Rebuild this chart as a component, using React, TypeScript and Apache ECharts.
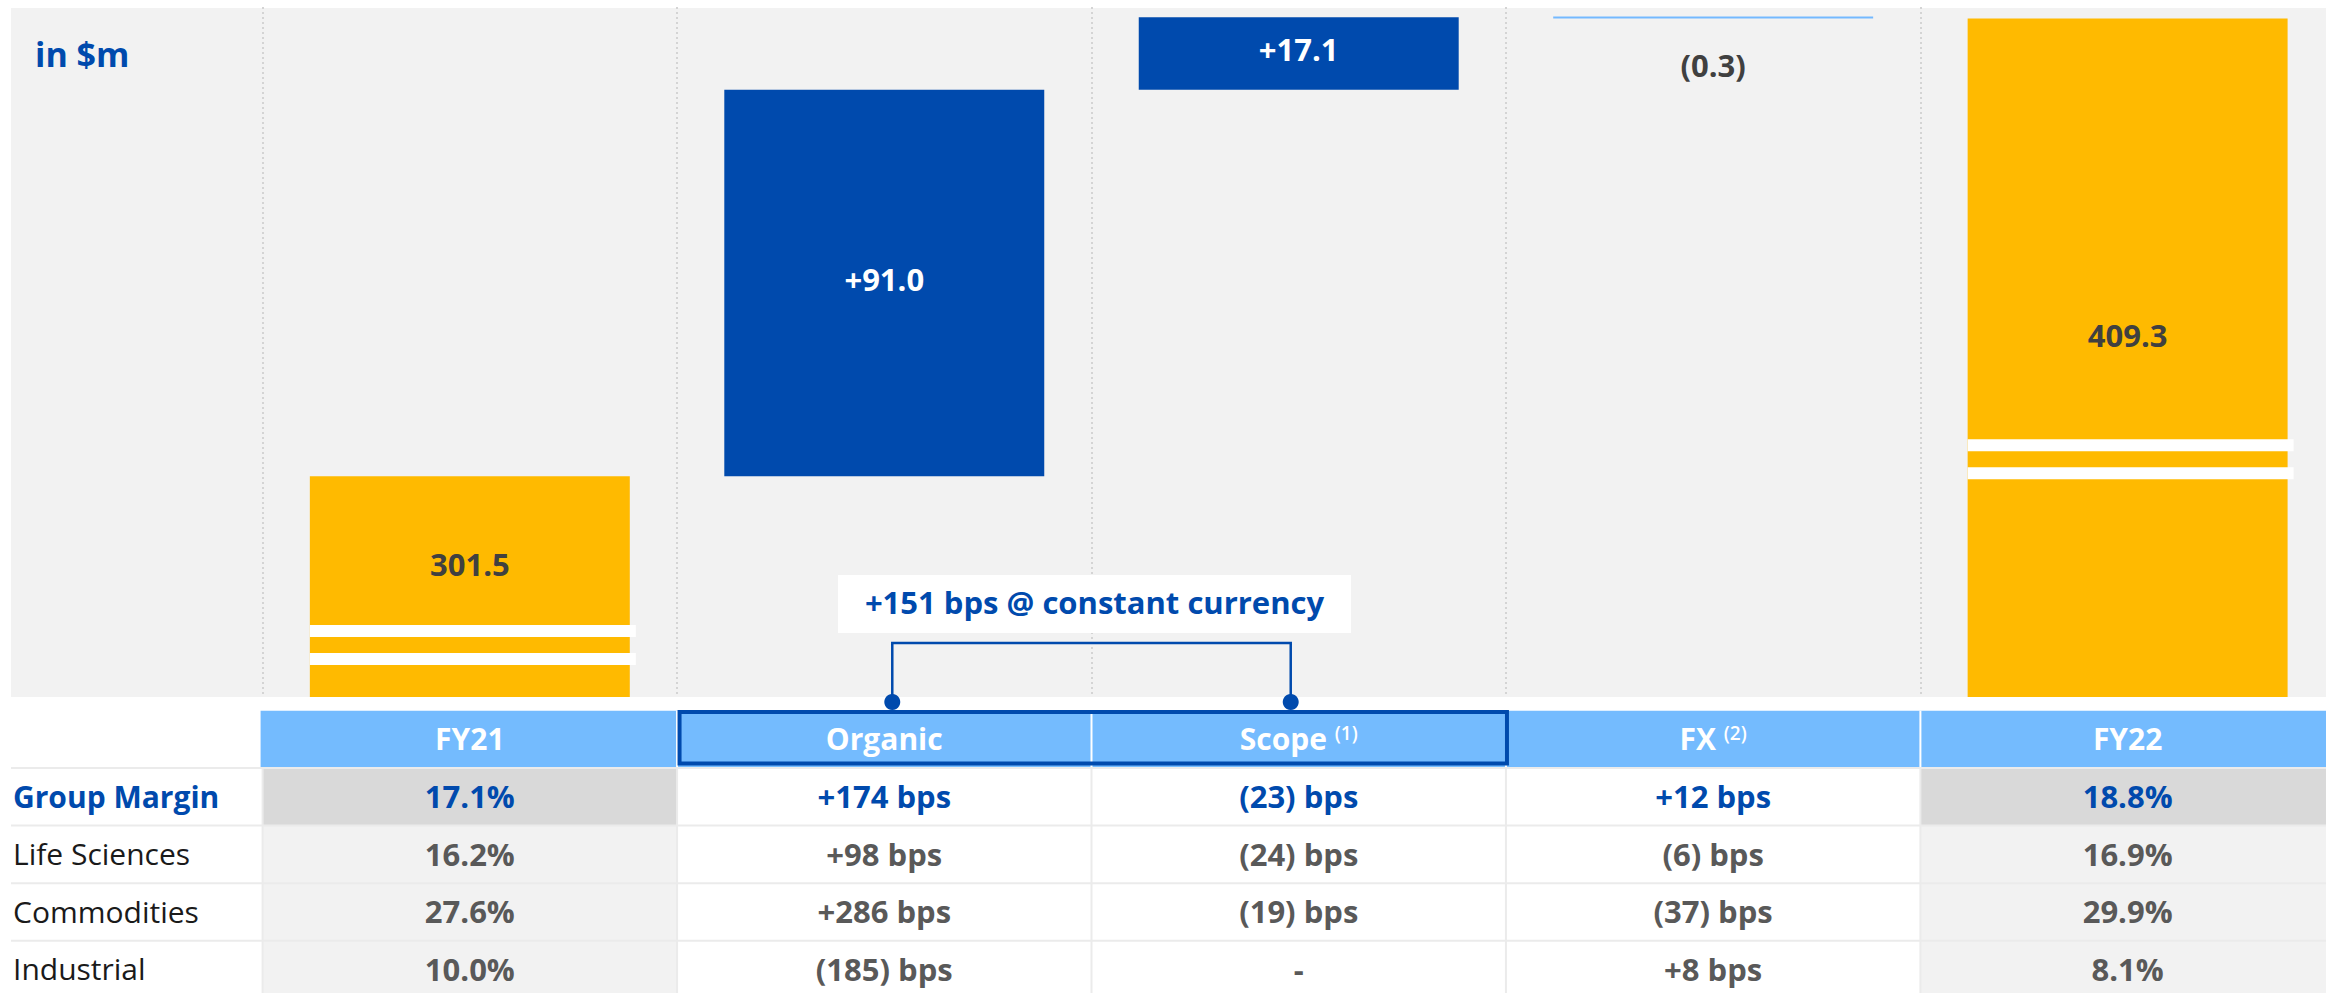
import React, { useEffect, useRef } from 'react';
import * as echarts from 'echarts';

// ---------- data ----------
const CATEGORIES = ['FY21', 'Organic', 'Scope', 'FX', 'FY22'];
const FOOTNOTES = ['', '', '(1)', '(2)', ''];
const START_TOTAL = 301.5;
const BRIDGE_DELTAS = [91.0, 17.1, -0.3];
const END_TOTAL = 409.3;

const ROW_LABELS = ['Group Margin', 'Life Sciences', 'Commodities', 'Industrial'];
const FY21_MARGIN = [17.1, 16.2, 27.6, 10.0];
const ORGANIC_BPS = [174, 98, 286, -185];
const SCOPE_BPS: (number | null)[] = [-23, -24, -19, null];
const FX_BPS = [12, -6, -37, 8];
const FY22_MARGIN = [18.8, 16.9, 29.9, 8.1];
const CONSTANT_CCY_BPS = 151;

// ---------- styles ----------
const VIEW_W = 2326;
const W = 2344; // canvas is a bit wider than the view: the last column runs past the right edge
const H = 993;
const FONT = '"Open Sans", "Noto Sans", sans-serif';
const BLUE = '#004AAD';
const YELLOW = '#FFBA00';
const LIGHT_BLUE = '#74BBFE';
const FX_LINE = '#74B9FF';
const DARK_TEXT = '#404040';
const GRAY_TEXT = '#595959';
const PANEL = '#F2F2F2';
const SEP = '#EBEBEB';
const BAR_RATIO = 0.772;
const BREAK_FRAC = [0.674, 0, 0, 0, 0.62];
const GRID_LEFT = 262.6;
const COL_W = 414.45;
const GRID = { left: GRID_LEFT, top: 7, width: COL_W * 5, height: 690 };
const HEADER_TOP = 710.7;
const HEADER_BOTTOM = 767;
const ROW_H = 57.6;

const fmtPct = (v: number) => v.toFixed(1) + '%';
const fmtBps = (v: number | null) =>
  v === null ? '-' : v >= 0 ? `+${v} bps` : `(${Math.abs(v)}) bps`;
const fmtDelta = (d: number) => (d >= 0 ? '+' + d.toFixed(1) : '(' + Math.abs(d).toFixed(1) + ')');

function buildWaterfall() {
  const base: number[] = [0];
  const vals: number[] = [START_TOTAL];
  const labels: string[] = [START_TOTAL.toFixed(1)];
  const kinds: string[] = ['total'];
  let run = START_TOTAL;
  for (const d of BRIDGE_DELTAS) {
    const next = run + d;
    base.push(Math.min(run, next));
    vals.push(Math.abs(d));
    labels.push(fmtDelta(d));
    kinds.push(d >= 0 ? 'up' : 'down');
    run = next;
  }
  base.push(0);
  vals.push(END_TOTAL);
  labels.push(END_TOTAL.toFixed(1));
  kinds.push('total');
  return { base, vals, labels, kinds };
}

export default function App() {
  const ref = useRef<HTMLDivElement>(null);
  useEffect(() => {
    if (!ref.current) return;
    const chart = echarts.init(ref.current, undefined, { renderer: 'svg', width: W, height: H });
    const wf = buildWaterfall();

    const valueData = wf.vals.map((v, i) => {
      const k = wf.kinds[i];
      const color = k === 'total' ? YELLOW : k === 'up' ? BLUE : FX_LINE;
      const lc = k === 'up' ? '#FFFFFF' : DARK_TEXT;
      const off = k === 'total' ? [0, -23] : k === 'up' ? [0, -4] : [0, 48];
      return { value: v, itemStyle: { color }, label: { color: lc, offset: off } };
    });

    const option: any = {
      animation: false,
      backgroundColor: '#FFFFFF',
      textStyle: { fontFamily: FONT },
      grid: { ...GRID, containLabel: false },
      xAxis: {
        type: 'category',
        data: CATEGORIES,
        axisLine: { show: false },
        axisTick: { show: false },
        axisLabel: { show: false },
        splitLine: { show: true, interval: 0, lineStyle: { color: '#D4D4D4', width: 2, type: [2, 3] } },
      },
      yAxis: { type: 'value', min: 249.5, max: 412, show: false },
      series: [
        {
          name: 'base',
          type: 'bar',
          stack: 'wf',
          barWidth: (BAR_RATIO * 100).toFixed(1) + '%',
          itemStyle: { color: 'transparent' },
          data: wf.base,
          silent: true,
        },
        {
          name: 'value',
          type: 'bar',
          stack: 'wf',
          barWidth: (BAR_RATIO * 100).toFixed(1) + '%',
          barMinHeight: 2,
          data: valueData,
          label: {
            show: true,
            position: 'inside',
            fontFamily: FONT,
            fontWeight: 'bold',
            fontSize: 31,
            formatter: (p: any) => wf.labels[p.dataIndex],
          },
        },
        {
          name: 'break',
          type: 'custom',
          z: 5,
          silent: true,
          data: [
            [0, START_TOTAL],
            [4, END_TOTAL],
          ],
          encode: { x: 0, y: 1 },
          renderItem: (params: any, api: any) => {
            const i = api.value(0);
            const top = api.coord([i, api.value(1)]);
            const cs = params.coordSys;
            const bottom = cs.y + cs.height;
            const y0 = top[1] + BREAK_FRAC[i] * (bottom - top[1]);
            const bw = api.size([1, 0])[0] * BAR_RATIO;
            const x0 = top[0] - bw / 2;
            return {
              type: 'group',
              children: [
                { type: 'rect', shape: { x: x0, y: y0, width: bw + 6, height: 12 }, style: { fill: '#FFFFFF' } },
                { type: 'rect', shape: { x: x0, y: y0 + 28, width: bw + 6, height: 12 }, style: { fill: '#FFFFFF' } },
              ],
            };
          },
        },
      ],
    };
    chart.setOption(option);

    // table & annotations positioned from the category axis
    const cx = (i: number) => chart.convertToPixel({ xAxisIndex: 0 }, i) as number;
    const colW = cx(1) - cx(0);
    const colLeft = (i: number) => cx(i) - colW / 2;

    const g: any[] = [];
    g.push({ type: 'rect', z: -10, shape: { x: 11, y: 8, width: W - 11, height: 689 }, style: { fill: PANEL } });
    g.push({
      type: 'text', z: 10, x: 35, y: 54,
      style: { text: 'in $m', fill: BLUE, fontFamily: FONT, fontWeight: 'bold', fontSize: 34, verticalAlign: 'middle' },
    });

    // header
    g.push({
      type: 'rect', z: 10,
      shape: { x: colLeft(0) - 2, y: HEADER_TOP, width: W - colLeft(0) + 2, height: HEADER_BOTTOM - HEADER_TOP },
      style: { fill: LIGHT_BLUE },
    });
    for (let i = 1; i < CATEGORIES.length; i++) {
      g.push({
        type: 'rect', z: 11,
        shape: { x: colLeft(i) - 1, y: HEADER_TOP, width: 2, height: HEADER_BOTTOM - HEADER_TOP },
        style: { fill: '#FFFFFF' },
      });
    }
    CATEGORIES.forEach((c, i) => {
      const fn = FOOTNOTES[i];
      g.push({
        type: 'text', z: 12, x: cx(i), y: 738.5,
        style: {
          text: fn ? `{h|${c} }{s|${fn}}` : `{h|${c}}`,
          align: 'center',
          verticalAlign: 'middle',
          rich: {
            h: { fontFamily: FONT, fontWeight: 'bold', fontSize: 30, fill: '#FFFFFF' },
            s: { fontFamily: FONT, fontWeight: 600, fontSize: 19, fill: '#FFFFFF', verticalAlign: 'top' },
          },
        },
      });
    });
    // highlighted box around Organic + Scope
    {
      const oL = colLeft(1) + 0.5;
      const oR = colLeft(3) + 3;
      g.push({
        type: 'rect', z: 13,
        shape: { x: oL + 2, y: 712, width: oR - oL - 4, height: 51.5 },
        style: { fill: 'none', stroke: BLUE, lineWidth: 4 },
      });
    }

    // body
    g.push({ type: 'rect', z: 9, shape: { x: 11, y: HEADER_BOTTOM, width: W - 11, height: H - HEADER_BOTTOM }, style: { fill: SEP } });
    const cols = [
      FY21_MARGIN.map(fmtPct),
      ORGANIC_BPS.map(fmtBps),
      SCOPE_BPS.map(fmtBps),
      FX_BPS.map(fmtBps),
      FY22_MARGIN.map(fmtPct),
    ];
    ROW_LABELS.forEach((lab, r) => {
      const top = HEADER_BOTTOM + r * ROW_H;
      const cy = top + 29;
      const isGroup = r === 0;
      g.push({
        type: 'rect', z: 10,
        shape: { x: 11, y: top + 2, width: colLeft(0) - 1 - 11, height: ROW_H - 2 },
        style: { fill: '#FFFFFF' },
      });
      g.push({
        type: 'text', z: 12, x: 13, y: cy,
        style: {
          text: lab, fill: isGroup ? BLUE : '#1A1A1A', fontFamily: FONT,
          fontWeight: isGroup ? 'bold' : 'normal', fontSize: 30, verticalAlign: 'middle', align: 'left',
        },
      });
      cols.forEach((vals, c) => {
        const isTotal = c === 0 || c === 4;
        const fill = isTotal ? (isGroup ? '#D9D9D9' : PANEL) : '#FFFFFF';
        const x0 = colLeft(c) + 1;
        const x1 = Math.min(colLeft(c + 1) - 1, W);
        g.push({ type: 'rect', z: 10, shape: { x: x0, y: top + 2, width: x1 - x0, height: ROW_H - 2 }, style: { fill } });
        g.push({
          type: 'text', z: 12, x: cx(c), y: cy,
          style: {
            text: vals[r], fill: isGroup ? BLUE : GRAY_TEXT, fontFamily: FONT,
            fontWeight: 'bold', fontSize: 31, align: 'center', verticalAlign: 'middle',
          },
        });
      });
    });

    // constant-currency bracket
    {
      const a = cx(1) + 8;
      const b = cx(2) - 8;
      const mid = colLeft(2) + 3;
      g.push({
        type: 'polyline', z: 14,
        shape: { points: [[a, 702], [a, 643], [b, 643], [b, 702]] },
        style: { stroke: BLUE, lineWidth: 2.5, fill: 'none' },
      });
      g.push({ type: 'circle', z: 15, shape: { cx: a, cy: 702, r: 8 }, style: { fill: BLUE } });
      g.push({ type: 'circle', z: 15, shape: { cx: b, cy: 702, r: 8 }, style: { fill: BLUE } });
      g.push({ type: 'rect', z: 14, shape: { x: mid - 256.5, y: 575, width: 513, height: 58 }, style: { fill: '#FFFFFF' } });
      g.push({
        type: 'text', z: 15, x: mid, y: 602,
        style: {
          text: `+${CONSTANT_CCY_BPS} bps @ constant currency`, fill: BLUE, fontFamily: FONT,
          fontWeight: 'bold', fontSize: 31, align: 'center', verticalAlign: 'middle',
        },
      });
    }

    chart.setOption({ graphic: { elements: g } });
    return () => chart.dispose();
  }, []);

  return (
    <div
      style={{ position: 'fixed', left: 0, top: 0, width: VIEW_W, height: H, overflow: 'hidden', background: '#FFFFFF' }}
    >
      <div ref={ref} style={{ width: W, height: H }} />
    </div>
  );
}
